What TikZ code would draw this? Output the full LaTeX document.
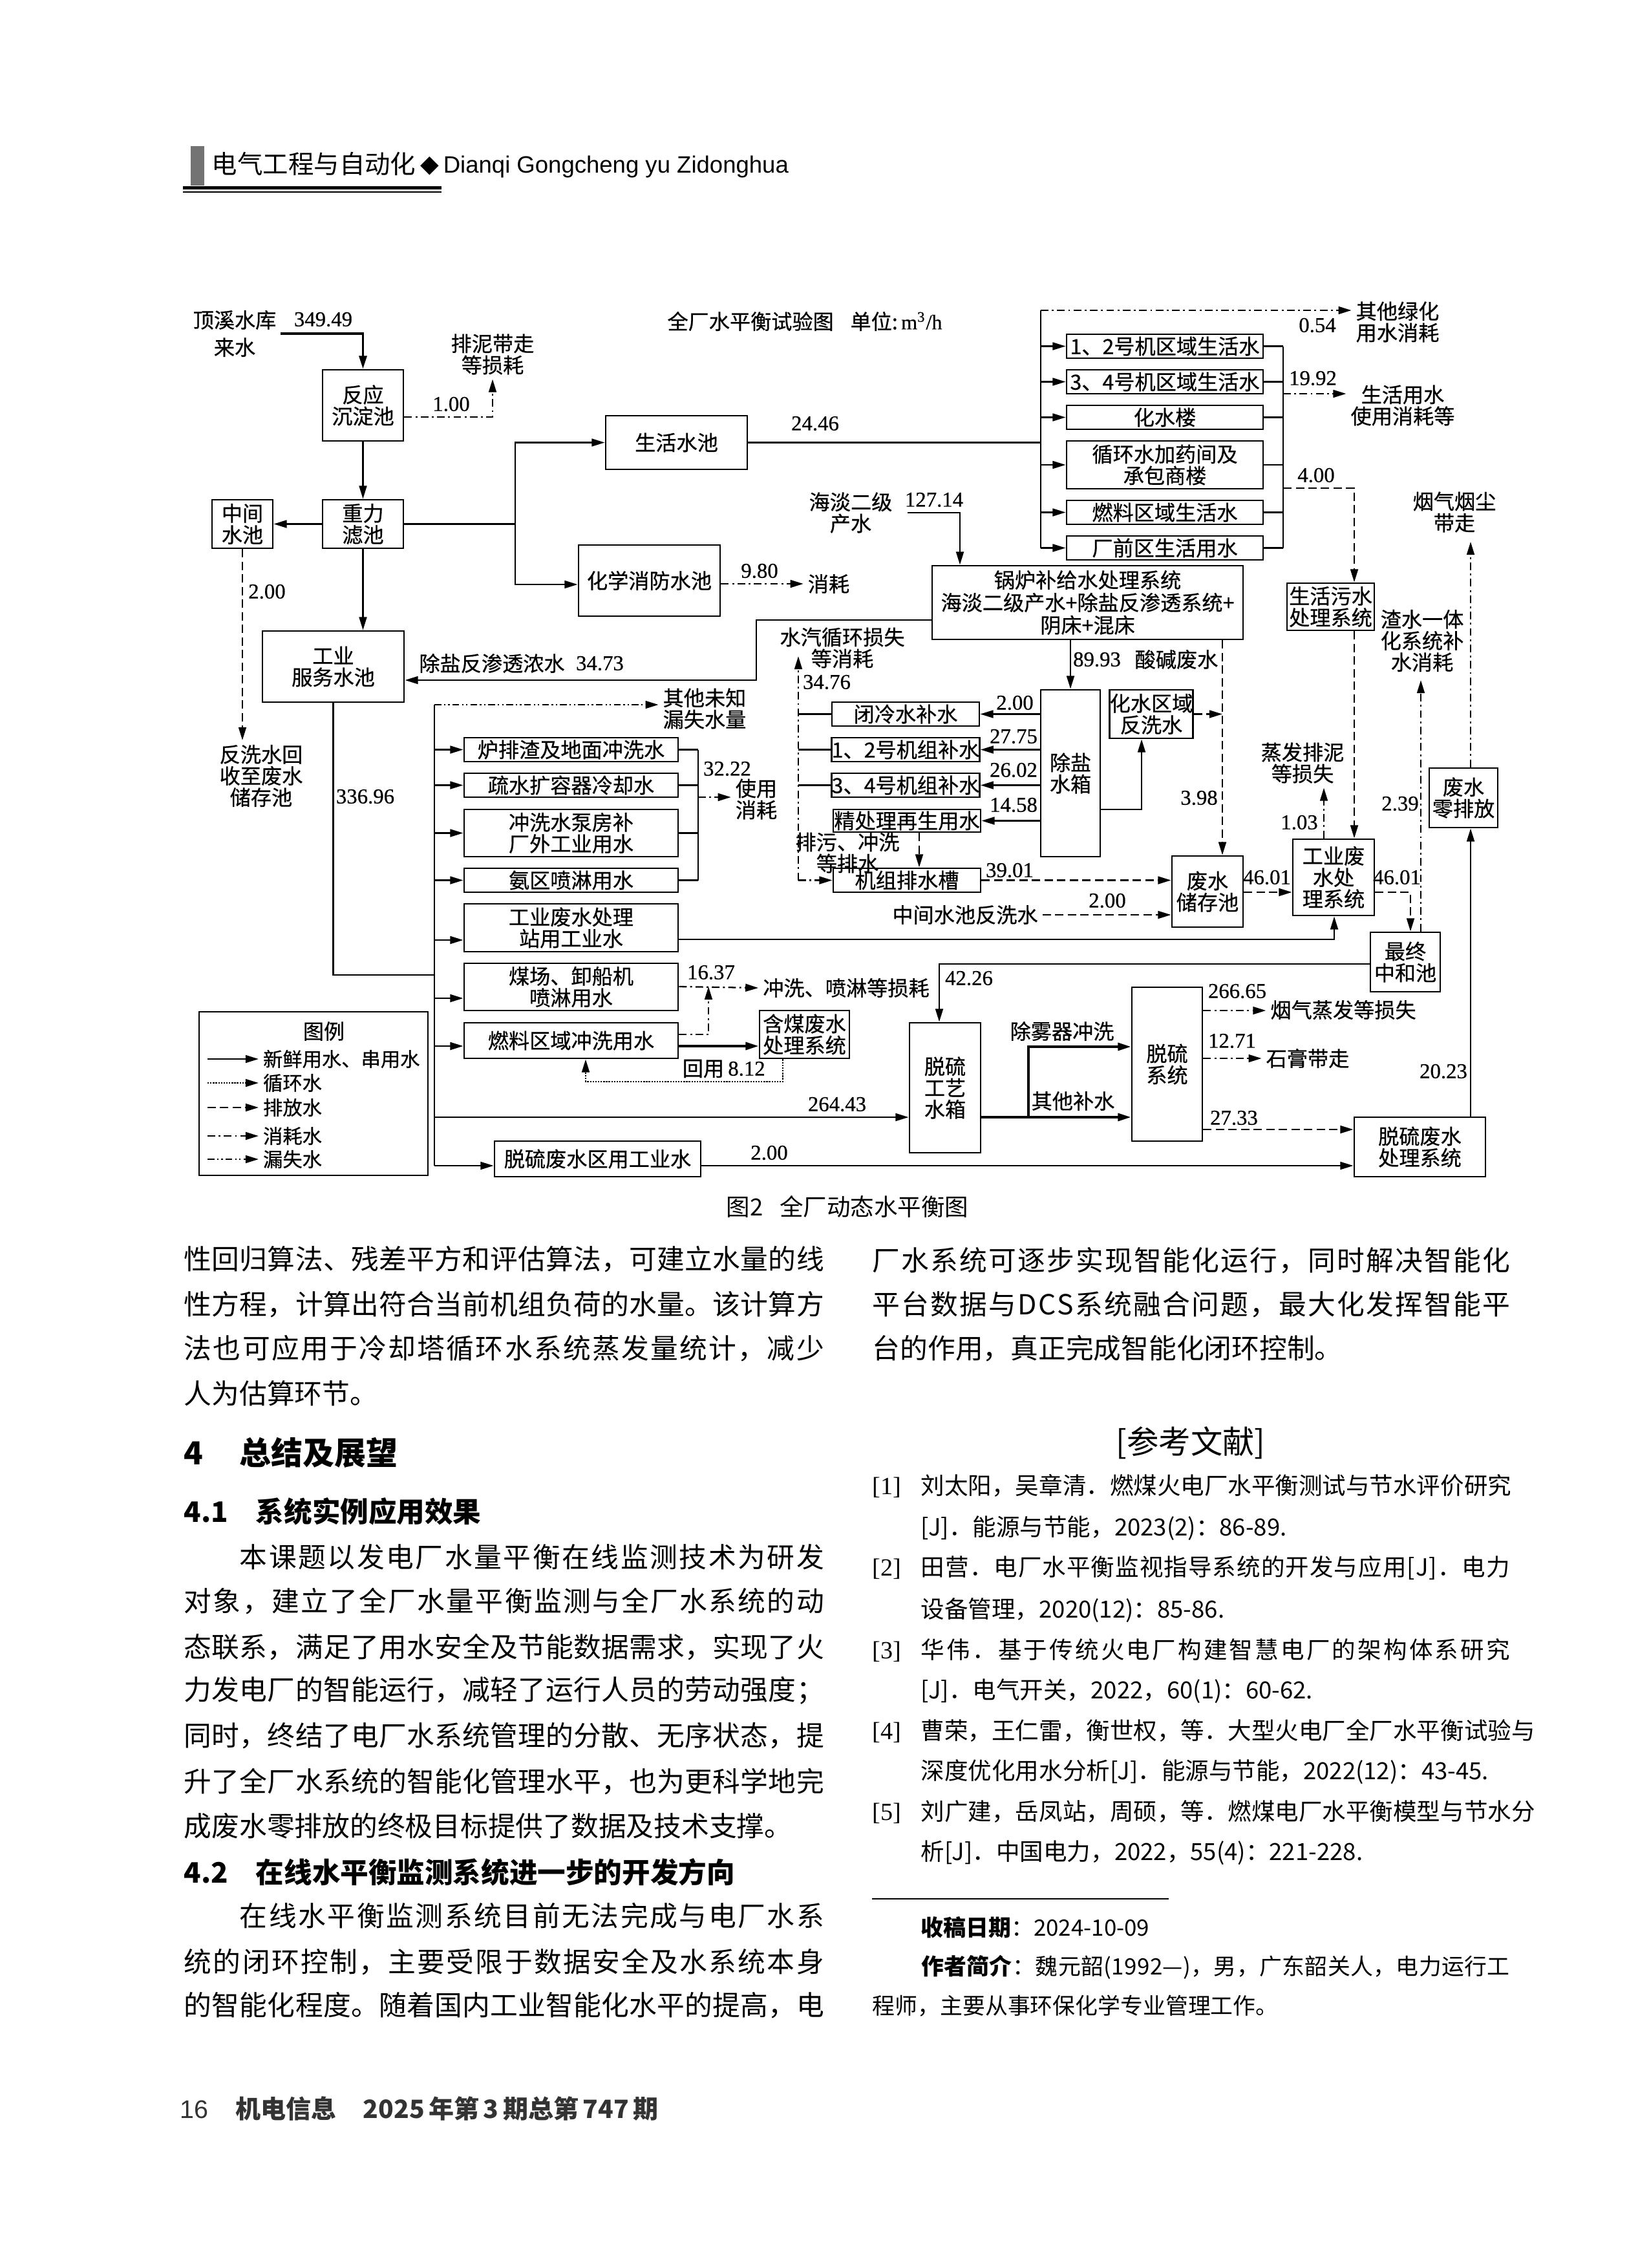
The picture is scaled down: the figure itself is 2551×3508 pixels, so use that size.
\documentclass[tikz,border=0pt]{standalone}
\usepackage{fontspec}
\usetikzlibrary{arrows.meta}
\setmainfont{Liberation Serif}
\newfontfamily\cjkF{Noto Sans CJK SC}
\newfontfamily\cjkD{Noto Sans CJK SC}[FakeBold=0.6]
\newfontfamily\numFam{Liberation Serif}[FakeBold=0.5]
\newfontfamily\lsansF{Liberation Sans}
\newfontfamily\djvF{DejaVu Sans}
\newlength\pxu \setlength\pxu{0.0846667mm}
\newcommand\dgF{\cjkD\fontsize{7.75pt}{8pt}\selectfont}
\newcommand\lgF{\cjkD\fontsize{7.3pt}{8pt}\selectfont}
\newcommand\numF{\numFam\fontsize{7.9pt}{8.2pt}\selectfont}
\newcommand\bodyF{\cjkF\fontsize{10.3pt}{12pt}\selectfont}
\newcommand\refF{\cjkF\fontsize{8.8pt}{10pt}\selectfont}
\newcommand\footF{\cjkF\fontsize{8.4pt}{10pt}\selectfont}
\newcommand\headF{\cjkF\bfseries\fontsize{11.8pt}{13pt}\selectfont}
\newcommand\secF{\cjkF\bfseries\fontsize{10.5pt}{12pt}\selectfont}
\makeatletter
\def\jl@stop{\jl@stop}
\def\jl@loop#1{\ifx\jl@stop#1\else#1\hskip0pt plus 1fil\relax\expandafter\jl@loop\fi}
\newcommand\jline[2]{\hbox to #1{\jl@loop#2\jl@stop\unskip}}
\makeatother
\newcommand\bx[6]{%
  \pgfmathsetmacro\bxw{(#4-#2)*0.0846667}\pgfmathsetmacro\bxh{(#5-#3)*0.0846667}%
  \pgfmathsetmacro\bxx{(#2+#4)/2}\pgfmathsetmacro\bxy{(#3+#5)/2}%
  \node[box,minimum width={\bxw mm},minimum height={\bxh mm}] (#1) at (\bxx,\bxy) {#6};}
\begin{document}
\begin{tikzpicture}[x=0.0846667mm,y=-0.0846667mm,
  box/.style={draw,line width=0.7pt,inner sep=0pt,align=center,font=\dgF},
  lbl/.style={inner sep=1.5pt,align=center,font=\dgF},
  num/.style={inner sep=1pt,font=\numF},
  ln/.style={line width=0.55pt},
  fl/.style={ln,-{Triangle[length=1.7mm,width=1.0mm]}},
  dis/.style={fl,dash pattern=on 1.1mm off 0.55mm},
  cons/.style={fl,dash pattern=on 1mm off 0.45mm on 0.25mm off 0.45mm},
  leak/.style={fl,dash pattern=on 0.9mm off 0.35mm on 0.2mm off 0.35mm on 0.2mm off 0.35mm},
  circ/.style={fl,dash pattern=on 0.2mm off 0.15mm},
  bl/.style={anchor=base west,inner sep=0pt}]
\useasboundingbox (0,0) rectangle (2551,3508);
\fill[white] (0,0) rectangle (2551,3508);

% ---------------- header
\fill[black!55] (295,226) rectangle (316,287);
\node[bl,font=\cjkF\fontsize{9.5pt}{10pt}\selectfont] (hd1) at (327,268) {电气工程与自动化};
\node[bl,font=\djvF\fontsize{9pt}{10pt}\selectfont] (hd2) at (650,266) {◆};
\node[bl,font=\lsansF\fontsize{8.8pt}{10pt}\selectfont] (hd3) at (685,267) {Dianqi Gongcheng yu Zidonghua};
\fill (283,288) rectangle (683,293);
\fill (283,296) rectangle (683,298);

% ---------------- diagram boxes
\bx{fanying}{499}{572}{624}{682}{反应\\沉淀池}
\bx{zhongli}{499}{773}{624}{848}{重力\\滤池}
\bx{zhongjian}{328}{773}{422}{848}{中间\\水池}
\bx{gongye}{406}{976}{625}{1086}{工业\\服务水池}
\bx{shenghuo}{937}{643}{1156}{726}{生活水池}
\bx{xiaofang}{895}{843}{1114}{953}{化学消防水池}
\bx{guolu}{1442}{875}{1923}{989}{锅炉补给水处理系统\\[0.4pt]海淡二级产水+除盐反渗透系统+\\[0.4pt]阴床+混床}
\bx{shA}{1650}{517}{1954}{554}{1、2号机区域生活水}
\bx{shB}{1650}{572}{1954}{609}{3、4号机区域生活水}
\bx{shC}{1650}{627}{1954}{664}{化水楼}
\bx{shD}{1650}{682}{1954}{756}{循环水加药间及\\承包商楼}
\bx{shE}{1650}{774}{1954}{811}{燃料区域生活水}
\bx{shF}{1650}{829}{1954}{866}{厂前区生活用水}
\bx{shws}{1991}{902}{2126}{975}{生活污水\\处理系统}
\bx{lingpai}{2211}{1188}{2317}{1280}{废水\\零排放}
\bx{rbA}{1287}{1086}{1515}{1123}{闭冷水补水}
\bx{rbB}{1287}{1141}{1515}{1178}{1、2号机组补水}
\bx{rbC}{1287}{1196}{1515}{1233}{3、4号机组补水}
\bx{rbD}{1289}{1252}{1517}{1287}{精处理再生用水}
\bx{pai}{1289}{1343}{1517}{1380}{机组排水槽}
\bx{chuyan}{1610}{1067}{1702}{1325}{除盐\\水箱}
\bx{huashui}{1717}{1067}{1845}{1142}{化水区域\\反洗水}
\bx{feishui}{1813}{1324}{1923}{1434}{废水\\储存池}
\bx{gyfs}{2000}{1298}{2126}{1416}{工业废\\水处\\理系统}
\bx{zhonghe}{2120}{1442}{2228}{1534}{最终\\中和池}
\bx{lbA}{718}{1141}{1049}{1178}{炉排渣及地面冲洗水}
\bx{lbB}{718}{1196}{1049}{1233}{疏水扩容器冷却水}
\bx{lbC}{718}{1252}{1049}{1325}{冲洗水泵房补\\厂外工业用水}
\bx{lbD}{718}{1343}{1049}{1380}{氨区喷淋用水}
\bx{lbE}{718}{1398}{1049}{1472}{工业废水处理\\站用工业水}
\bx{lbF}{718}{1490}{1049}{1563}{煤场、卸船机\\喷淋用水}
\bx{lbG}{718}{1582}{1049}{1637}{燃料区域冲洗用水}
\bx{lbH}{765}{1765}{1084}{1820}{脱硫废水区用工业水}
\bx{hanmei}{1175}{1563}{1314}{1637}{含煤废水\\处理系统}
\bx{tlgy}{1407}{1582}{1517}{1783}{脱硫\\工艺\\水箱}
\bx{tlxt}{1751}{1527}{1860}{1765}{脱硫\\系统}
\bx{tlfs}{2095}{1728}{2298}{1820}{脱硫废水\\处理系统}
\bx{legend}{308}{1565}{662}{1818}{}

% ---------------- text labels
\node[lbl] (src) at (363,516) {顶溪水库\\[2.2pt]来水};
\node[lbl] (pnt) at (762,548) {排泥带走\\等损耗};
\node[lbl] (fanxi) at (404,1200) {反洗水回\\收至废水\\储存池};
\node[lbl] (title) at (1245,497) {全厂水平衡试验图\hspace{0.8em}单位:\,{\numFam m\textsuperscript{3}/h}};
\node[lbl] (haidan) at (1316,793) {海淡二级\\产水};
\node[lbl] (xiaohao) at (1282,903) {消耗};
\node[lbl] (qita) at (2162,498) {其他绿化\\用水消耗};
\node[lbl] (shyong) at (2170,627) {生活用水\\使用消耗等};
\node[lbl] (yanqi) at (2250,792) {烟气烟尘\\带走};
\node[lbl] (zhashui) at (2200,991) {渣水一体\\化系统补\\水消耗};
\node[lbl] (czws) at (761,1026) {除盐反渗透浓水};
\node[lbl] (qtwz) at (1090,1096) {其他未知\\漏失水量};
\node[lbl] (shiyong) at (1170,1236) {使用\\消耗};
\node[lbl] (shuiqi) at (1303,1002) {水汽循环损失\\等消耗};
\node[lbl] (paiwu) at (1311,1319) {排污、冲洗\\等排水};
\node[lbl] (suanjian) at (1820,1020) {酸碱废水};
\node[lbl] (zhengfa) at (2015,1180) {蒸发排泥\\等损失};
\node[lbl] (zjfx) at (1493,1415) {中间水池反洗水};
\node[lbl] (chongxi) at (1309,1528) {冲洗、喷淋等损耗};
\node[lbl] (huiyong) at (1088,1653) {回用};
\node[lbl] (chuwu) at (1643,1595) {除雾器冲洗};
\node[lbl] (qtbs) at (1660,1703) {其他补水};
\node[lbl] (yqzf) at (2078,1562) {烟气蒸发等损失};
\node[lbl] (shigao) at (2023,1637) {石膏带走};

% ---------------- numbers
\node[num] (n349) at (500,494) {349.49};
\node[num] (n100) at (698,625) {1.00};
\node[num] (n200a) at (413,915) {2.00};
\node[num] (n2446) at (1261,655) {24.46};
\node[num] (n12714) at (1445,773) {127.14};
\node[num] (n980) at (1175,883) {9.80};
\node[num] (n054) at (2038,503) {0.54};
\node[num] (n1992) at (2031,585) {19.92};
\node[num] (n400) at (2036,735) {4.00};
\node[num] (n3473) at (928,1026) {34.73};
\node[num] (n33696) at (565,1232) {336.96};
\node[num] (n3222) at (1125,1189) {32.22};
\node[num] (n3476) at (1279,1055) {34.76};
\node[num] (n200b) at (1570,1087) {2.00};
\node[num] (n2775) at (1568,1139) {27.75};
\node[num] (n2602) at (1568,1191) {26.02};
\node[num] (n1458) at (1568,1245) {14.58};
\node[num] (n8993) at (1697,1020) {89.93};
\node[num] (n398) at (1855,1234) {3.98};
\node[num] (n3901) at (1562,1346) {39.01};
\node[num] (n200c) at (1713,1393) {2.00};
\node[num] (n4601a) at (1960,1357) {46.01};
\node[num] (n4601b) at (2161,1357) {46.01};
\node[num] (n103) at (2010,1272) {1.03};
\node[num] (n239) at (2166,1243) {2.39};
\node[num] (n2023) at (2233,1657) {20.23};
\node[num] (n1637) at (1100,1504) {16.37};
\node[num] (n812) at (1155,1653) {8.12};
\node[num] (n4226) at (1499,1513) {42.26};
\node[num] (n26443) at (1295,1708) {264.43};
\node[num] (n26665) at (1914,1533) {266.65};
\node[num] (n1271) at (1906,1610) {12.71};
\node[num] (n2733) at (1909,1729) {27.33};
\node[num] (n200d) at (1190,1783) {2.00};

% free ends
\coordinate (hdstart) at (1404,793);
\coordinate (sqtip) at (1235,1015);
\coordinate (zstip) at (2198,1052);
\coordinate (yqtip) at (2275,838);

% ---------------- connectors: top-left
\draw[fl,line width=0.85pt] (src.east) -| (fanying.north);
\draw[cons] (fanying.east |- 0,645) -| (pnt.south);
\draw[fl] (fanying.south) -- (zhongli.north);
\draw[fl] (zhongli.west) -- (zhongjian.east);
\draw[fl] (zhongli.east) -| (797,684.5) -- (shenghuo.west);
\draw[fl] (797,810.5) |- (xiaofang.west |- 0,904);
\draw[fl] (zhongli.south) -- (zhongli.south |- gongye.north);
\draw[dis] (zhongjian.south) -- (zhongjian.south |- fanxi.north);
\draw[cons] (xiaofang.east |- 0,903) -- (xiaohao.west);

% domestic water bus
\draw[ln] (shenghuo.east) -- (1610,684.5);
\draw[ln] (1610,480) -- (1610,847.5);
\draw[cons] (1610,480) -- (qita.west |- 0,480);
\foreach \b in {shA,shB,shC,shD,shE,shF}{
  \draw[fl] (\b.west -| 1610,0) -- (\b.west);
  \draw[ln] (\b.east) -- (\b.east -| 1985,0);
}
\draw[ln] (1985,535.5) -- (1985,847.5);
\draw[cons] (1985,609) -- (shyong.west |- 0,609);
\draw[dis] (1985,755) -| (shws.north -| 2095,0);

% boiler make-up
\draw[fl] (hdstart) -| (guolu.north -| 1485,0);
\draw[fl] (guolu.west |- 0,959) -| (1170,1052) -- (gongye.east |- 0,1052);
\draw[fl] (chuyan.north |- guolu.south) -- (chuyan.north);
\draw[dis] (guolu.south -| 1891,0) -- (feishui.north -| 1891,0);
\draw[dis] (huashui.east) -- (1891,1104.5);
\draw[fl] (chuyan.east |- 0,1252) -| (huashui.south -| 1766,0);
\foreach \b in {rbA,rbB,rbC,rbD}{
  \draw[fl] (chuyan.west |- \b.east) -- (\b.east);
}
\foreach \b in {rbA,rbB,rbC}{
  \draw[ln] (\b.west) -- (\b.west -| 1235,0);
}
\draw[cons] (pai.west -| 1235,0) -- (sqtip);
\draw[cons] (pai.west -| 1235,0) -- (pai.west);
\draw[dis] (rbD.south -| 1422,0) -- (pai.north -| 1422,0);
\draw[dis] (pai.east) -- (feishui.west |- pai.east);
\draw[dis] (zjfx.east) -- (feishui.west |- zjfx.east);
\draw[dis] (feishui.east |- 0,1380) -- (gyfs.west |- 0,1380);
\draw[dis] (gyfs.east |- 0,1380) -| (zhonghe.north -| 2182,0);
\draw[cons] (zhonghe.north -| 2198,0) -- (zstip);
\draw[cons] (gyfs.north -| 2048,0) -- (zhengfa.south -| 2048,0);
\draw[dis] (shws.south -| 2095,0) -- (gyfs.north -| 2095,0);
\draw[fl] (tlfs.north -| 2275,0) -- (lingpai.south -| 2275,0);
\draw[cons] (lingpai.north -| 2275,0) -- (yqtip);

% industrial water trunk
\draw[ln] (gongye.south) |- (672,1508);
\draw[ln] (672,1090) -- (672,1803);
\draw[leak] (672,1090) -- (qtwz.west |- 0,1090);
\foreach \b in {lbA,lbB,lbC,lbD}{
  \draw[fl] (\b.west -| 672,0) -- (\b.west);
  \draw[ln] (\b.east) -- (\b.east -| 1080,0);
}
\draw[fl] (672,1454) -- (lbE.west |- 0,1454);
\draw[fl] (672,1544) -- (lbF.west |- 0,1544);
\draw[fl] (672,1618) -- (lbG.west |- 0,1618);
\draw[fl] (672,1803) -- (lbH.west |- 0,1803);
\draw[fl] (672,1728) -- (tlgy.west |- 0,1728);
\draw[ln] (1080,1159.5) -- (1080,1361.5);
\draw[cons] (1080,1233) -- (shiyong.west |- 0,1233);
\draw[fl] (lbE.east |- 0,1453) -| (gyfs.south -| 2064,0);
\draw[fl] (zhonghe.west |- 0,1491) -| (tlgy.north -| 1453,0);
\draw[cons] (lbF.east |- 0,1526) -- (chongxi.west);
\draw[cons] (lbG.east |- 0,1600) -| (1096,1526);
\draw[fl,line width=0.85pt] (lbG.east |- 0,1618) -- (hanmei.west |- 0,1618);
\draw[circ] (hanmei.south -| 1211,0) |- (906,1673) -- (lbG.south -| 906,0);
\draw[fl,line width=0.85pt] (tlgy.east |- 0,1728) -- (tlxt.west |- 0,1728);
\draw[fl,line width=0.85pt] (1591,1728) |- (tlxt.west |- 0,1619);
\draw[cons] (tlxt.east |- 0,1563) -- (yqzf.west |- 0,1563);
\draw[cons] (tlxt.east |- 0,1637) -- (shigao.west);
\draw[dis] (tlxt.east |- 0,1747) -- (tlfs.west |- 0,1747);
\draw[fl] (lbH.east |- 0,1803) -- (tlfs.west |- 0,1803);

% legend
\node[lbl] (lgT) at (501,1595) {图例};
\coordinate (lgs1) at (321,1638);
\coordinate (lgs2) at (321,1675);
\coordinate (lgs3) at (321,1713);
\coordinate (lgs4) at (321,1757);
\coordinate (lgs5) at (321,1793);
\node[lbl,anchor=west,font=\lgF] (lg1) at (400,1638) {新鲜用水、串用水};
\node[lbl,anchor=west,font=\lgF] (lg2) at (400,1675) {循环水};
\node[lbl,anchor=west,font=\lgF] (lg3) at (400,1713) {排放水};
\node[lbl,anchor=west,font=\lgF] (lg4) at (400,1757) {消耗水};
\node[lbl,anchor=west,font=\lgF] (lg5) at (400,1793) {漏失水};
\draw[fl] (lgs1) -- (lg1.west);
\draw[circ] (lgs2) -- (lg2.west);
\draw[dis] (lgs3) -- (lg3.west);
\draw[cons] (lgs4) -- (lg4.west);
\draw[leak] (lgs5) -- (lg5.west);

% caption
\node[font=\cjkF\fontsize{8.8pt}{10pt}\selectfont,inner sep=0] (cap) at (1311,1866) {图2\hspace{0.7em}全厂动态水平衡图};

% ---------------- left column
\node[bl] (L1) at (284,1963) {\bodyF\jline{990\pxu}{性回归算法、残差平方和评估算法，可建立水量的线}};
\node[bl] (L2) at (284,2033) {\bodyF\jline{990\pxu}{性方程，计算出符合当前机组负荷的水量。该计算方}};
\node[bl] (L3) at (284,2101) {\bodyF\jline{990\pxu}{法也可应用于冷却塔循环水系统蒸发量统计，减少}};
\node[bl] (L4) at (284,2171) {\bodyF 人为估算环节。};
\node[bl] (H4a) at (284,2265) {\headF 4};
\node[bl] (H4b) at (370,2265) {\headF 总结及展望};
\node[bl] (H41a) at (284,2354) {\secF 4.1};
\node[bl] (H41b) at (395,2354) {\secF 系统实例应用效果};
\node[bl] (L5) at (370,2424) {\bodyF\jline{904\pxu}{本课题以发电厂水量平衡在线监测技术为研发}};
\node[bl] (L6) at (284,2492) {\bodyF\jline{990\pxu}{对象，建立了全厂水量平衡监测与全厂水系统的动}};
\node[bl] (L7) at (284,2563) {\bodyF\jline{990\pxu}{态联系，满足了用水安全及节能数据需求，实现了火}};
\node[bl] (L8) at (284,2629) {\bodyF\jline{990\pxu}{力发电厂的智能运行，减轻了运行人员的劳动强度；}};
\node[bl] (L9) at (284,2700) {\bodyF\jline{990\pxu}{同时，终结了电厂水系统管理的分散、无序状态，提}};
\node[bl] (L10) at (284,2771) {\bodyF\jline{990\pxu}{升了全厂水系统的智能化管理水平，也为更科学地完}};
\node[bl] (L11) at (284,2840) {\bodyF 成废水零排放的终极目标提供了数据及技术支撑。};
\node[bl] (H42a) at (284,2912) {\secF 4.2};
\node[bl] (H42b) at (395,2912) {\secF 在线水平衡监测系统进一步的开发方向};
\node[bl] (L12) at (370,2979) {\bodyF\jline{904\pxu}{在线水平衡监测系统目前无法完成与电厂水系}};
\node[bl] (L13) at (284,3050) {\bodyF\jline{990\pxu}{统的闭环控制，主要受限于数据安全及水系统本身}};
\node[bl] (L14) at (284,3117) {\bodyF\jline{990\pxu}{的智能化程度。随着国内工业智能化水平的提高，电}};

% ---------------- right column
\node[bl] (R1) at (1349,1965) {\bodyF\jline{986\pxu}{厂水系统可逐步实现智能化运行，同时解决智能化}};
\node[bl] (R2) at (1349,2033) {\bodyF\jline{986\pxu}{平台数据与DCS系统融合问题，最大化发挥智能平}};
\node[bl] (R3) at (1349,2101) {\bodyF 台的作用，真正完成智能化闭环控制。};
\node[anchor=base,inner sep=0] (refh) at (1842,2248) {\cjkF\fontsize{11.9pt}{13pt}\selectfont [参考文献]};
\node[bl] (r1a) at (1349,2311) {\rmfamily\fontsize{9.2pt}{10pt}\selectfont [1]};
\node[bl] (r1b) at (1424,2311) {\refF\jline{911\pxu}{刘太阳，吴章清．燃煤火电厂水平衡测试与节水评价研究}};
\node[bl] (r1c) at (1424,2375) {\refF [J]．能源与节能，2023(2)：86-89.};
\node[bl] (r2a) at (1349,2437) {\rmfamily\fontsize{9.2pt}{10pt}\selectfont [2]};
\node[bl] (r2b) at (1424,2437) {\refF\jline{911\pxu}{田营．电厂水平衡监视指导系统的开发与应用[J]．电力}};
\node[bl] (r2c) at (1424,2502) {\refF 设备管理，2020(12)：85-86.};
\node[bl] (r3a) at (1349,2565) {\rmfamily\fontsize{9.2pt}{10pt}\selectfont [3]};
\node[bl] (r3b) at (1424,2565) {\refF\jline{911\pxu}{华伟．基于传统火电厂构建智慧电厂的架构体系研究}};
\node[bl] (r3c) at (1424,2627) {\refF [J]．电气开关，2022，60(1)：60-62.};
\node[bl] (r4a) at (1349,2690) {\rmfamily\fontsize{9.2pt}{10pt}\selectfont [4]};
\node[bl] (r4b) at (1424,2690) {\refF\jline{911\pxu}{曹荣，王仁雷，衡世权，等．大型火电厂全厂水平衡试验与}};
\node[bl] (r4c) at (1424,2752) {\refF 深度优化用水分析[J]．能源与节能，2022(12)：43-45.};
\node[bl] (r5a) at (1349,2815) {\rmfamily\fontsize{9.2pt}{10pt}\selectfont [5]};
\node[bl] (r5b) at (1424,2815) {\refF\jline{911\pxu}{刘广建，岳凤站，周硕，等．燃煤电厂水平衡模型与节水分}};
\node[bl] (r5c) at (1424,2877) {\refF 析[J]．中国电力，2022，55(4)：221-228.};
\coordinate (ruleL) at (1349,2937);
\coordinate (ruleR) at (1808,2937);
\draw[line width=0.4pt] (ruleL) -- (ruleR);
\node[bl] (f1) at (1424,2994) {\footF{\bfseries 收稿日期}：2024-10-09};
\node[bl] (f2) at (1424,3054) {\footF\jline{911\pxu}{\bfseries 作者简介\mdseries ：魏元韶(1992—)，男，广东韶关人，电力运行工}};
\node[bl] (f3) at (1349,3115) {\footF 程师，主要从事环保化学专业管理工作。};

% ---------------- footer
\node[bl,text=black!80] (ft1) at (278,3276) {\lsansF\fontsize{9.5pt}{12pt}\selectfont 16};
\node[bl,text=black!80] (ft2) at (364,3276) {\cjkF\bfseries\fontsize{9.4pt}{12pt}\selectfont 机电信息};
\node[bl,text=black!80] (ft3) at (561,3276) {\cjkF\bfseries\fontsize{9.4pt}{12pt}\selectfont 2025\,年第\,3\,期总第\,747\,期};
\end{tikzpicture}
\end{document}
